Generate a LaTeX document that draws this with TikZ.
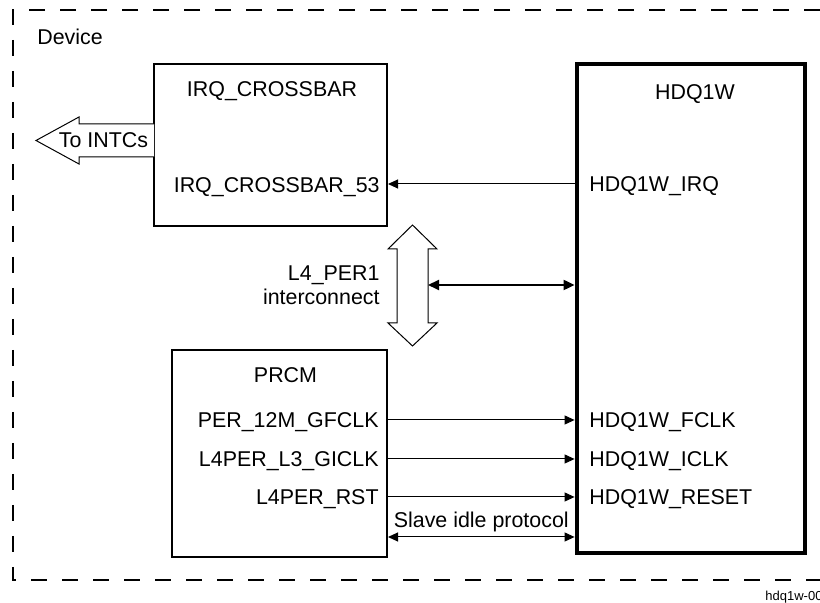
\documentclass[tikz,border=0pt]{standalone}
\usepackage{fontspec}
\setmainfont{Liberation Sans}
\usetikzlibrary{arrows.meta,positioning}

\begin{document}
\begin{tikzpicture}[x=0.5pt, y=-0.5pt, font=\fontsize{10.7}{12}\selectfont,
    blk/.style={draw, line width=1pt, inner sep=0pt},
    lbl/.style={inner sep=0pt, text height=0.72em, text depth=0pt},
    sig/.style={-{Triangle[length=5pt,width=4.5pt]}, line width=0.5pt},
    dsig/.style={{Triangle[length=5pt,width=4.5pt]}-{Triangle[length=5pt,width=4.5pt]}, line width=0.5pt},
    hollow/.style={draw, line width=0.5pt, fill=white}]
  \useasboundingbox (0,0) rectangle (820,603);

  % device frame
  \draw[line width=1.4pt, dash pattern=on 8pt off 7.5pt] (820,10) -| (13,580) -- (820,580);
  \node[lbl, anchor=west] (dev) at (37,37) {Device};

  % IRQ crossbar
  \node[blk, minimum width=116.5pt, minimum height=81pt] (xbar) at (270.5,145) {};
  \node[lbl] (xbart) at (272,89) {IRQ\_CROSSBAR};
  \node[lbl, anchor=east] (x53) at (380,185) {IRQ\_CROSSBAR\_53};

  % PRCM
  \node[blk, minimum width=107.5pt, minimum height=103.5pt] (prcm) at (279.5,453.5) {};
  \node[lbl] (prcmt) at (285.5,375) {PRCM};
  \node[lbl, anchor=east] (gf) at (379,420) {PER\_12M\_GFCLK};
  \node[lbl, anchor=east] (gi) at (379,459) {L4PER\_L3\_GICLK};
  \node[lbl, anchor=east] (rst) at (379,497) {L4PER\_RST};

  % HDQ1W
  \node[blk, line width=2.4pt, minimum width=114pt, minimum height=244.5pt] (hdq) at (691,308.5) {};
  \node[lbl] (hdqt) at (695,92) {HDQ1W};
  \node[lbl, anchor=west] (irq) at (589,184) {HDQ1W\_IRQ};
  \node[lbl, anchor=west] (fclk) at (589,420) {HDQ1W\_FCLK};
  \node[lbl, anchor=west] (iclk) at (589,459) {HDQ1W\_ICLK};
  \node[lbl, anchor=west] (reset) at (589,497) {HDQ1W\_RESET};

  % to INTCs
  \draw[hollow] (154,124) -- (79,124) -- (79,117) -- (36,140.5) -- (79,164) -- (79,157) -- (154,157);
  \node[lbl] (intc) at (103.5,140.5) {To INTCs};

  % L4_PER1 interconnect
  \draw[hollow] (412.5,225) -- (437,249) -- (428,249) -- (428,323) -- (437,323) -- (412.5,346)
    -- (388,323) -- (397,323) -- (397,249) -- (388,249) -- cycle;
  \coordinate (bus) at (428,285);
  \node[inner sep=0pt, align=right, anchor=east] (l4) at (380,285) {L4\_PER1\\interconnect};
  \draw[line width=1pt, {Triangle[length=5.5pt,width=5pt]}-{Triangle[length=5.5pt,width=5pt]}]
    (bus) -- (bus -| hdq.west);

  % signals
  \draw[sig] (irq.west -| hdq.west) -- (irq.west -| xbar.east);
  \draw[sig] (gf.east -| prcm.east) -- (gf.east -| hdq.west);
  \draw[sig] (gi.east -| prcm.east) -- (gi.east -| hdq.west);
  \draw[sig] (rst.east -| prcm.east) -- (rst.east -| hdq.west);
  \coordinate (sip) at (482,537);
  \draw[dsig] (sip -| prcm.east) -- (sip -| hdq.west)
    node[lbl, midway, above=4.3pt] (slave) {Slave idle protocol};

  \node[anchor=west, inner sep=0pt, font=\fontsize{6.5}{8}\selectfont] (fig) at (765,597) {hdq1w-001};
\end{tikzpicture}
\end{document}
